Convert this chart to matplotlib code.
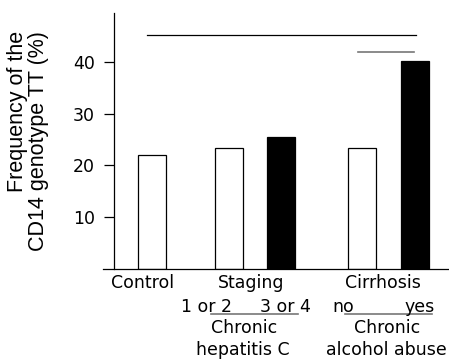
import numpy as np
import matplotlib
matplotlib.use("Agg")
import matplotlib.pyplot as plt

# <--------------------------- data ---------------------------->
groups = ["Control", "1 or 2", "3 or 4", "no", "yes"]
freq_tt = [22.1, 23.3, 25.5, 23.4, 40.3]
bar_fill = ["white", "white", "black", "white", "black"]
yticks = [10, 20, 30, 40]
# significance lines (height in %)
sig_long = 45.4
sig_short = 42.1

# <--------------------------- layout ---------------------------->
xpos = np.array([1.0, 2.0, 2.69, 3.75, 4.44])
width = 0.366
fs = 12.5

fig = plt.figure(figsize=(4.49, 3.62), dpi=100)
ax = fig.add_axes([103 / 449, 1 - 268.5 / 362, 346 / 449, 255.5 / 362])

ax.bar(xpos, freq_tt, width=width, color=bar_fill, edgecolor="black", linewidth=0.9)

ax.set_xlim(0.359, 4.882)
ax.set_ylim(0, 49.6)
ax.spines["left"].set_position(("data", 0.497))
ax.spines["top"].set_visible(False)
ax.spines["right"].set_visible(False)
ax.spines["left"].set_linewidth(0.9)
ax.spines["bottom"].set_linewidth(0.9)
ax.set_xticks([])
ax.set_yticks(yticks)
ax.set_yticklabels([str(t) for t in yticks], fontsize=fs, family="DejaVu Sans")
ax.tick_params(axis="y", length=7, width=0.9, pad=6.5)

# significance bars
ax.plot([xpos[0] - 0.07, xpos[4] + 0.01], [sig_long] * 2, color="black", lw=0.9)
ax.plot([xpos[3] - 0.06, xpos[4] - 0.01], [sig_short] * 2, color="#777777", lw=1.2)

# <--------------------------- labels under axis ---------------------------->
tr = ax.get_xaxis_transform()
kw = dict(transform=tr, fontsize=fs, ha="center", va="center", family="DejaVu Sans")
ax.text(0.882, -0.057, "Control", **kw)
ax.text(2.294, -0.057, "Staging", **kw)
ax.text(4.02, -0.057, "Cirrhosis", **kw)
ax.text(1.706, -0.151, groups[1], **kw)
ax.text(2.739, -0.151, groups[2], **kw)
ax.text(3.497, -0.151, groups[3], **kw)
ax.text(4.503, -0.151, groups[4], **kw)
ax.plot([1.771, 2.908], [-0.178] * 2, transform=tr, clip_on=False, color="#777777", lw=1.2)
ax.plot([3.523, 4.66], [-0.178] * 2, transform=tr, clip_on=False, color="#777777", lw=1.2)
ax.text(2.203, -0.233, "Chronic", **kw)
ax.text(2.19, -0.319, "hepatitis C", **kw)
ax.text(4.07, -0.233, "Chronic", **kw)
ax.text(4.06, -0.319, "alcohol abuse", **kw)

fig.text(28 / 449, 1 - 31 / 362, "Frequency of the\nCD14 genotype TT (%)", rotation=90,
         ha="center", va="top", multialignment="right", fontsize=15.5,
         family="Liberation Sans", linespacing=1.0)

plt.savefig("out.png", dpi=100)
